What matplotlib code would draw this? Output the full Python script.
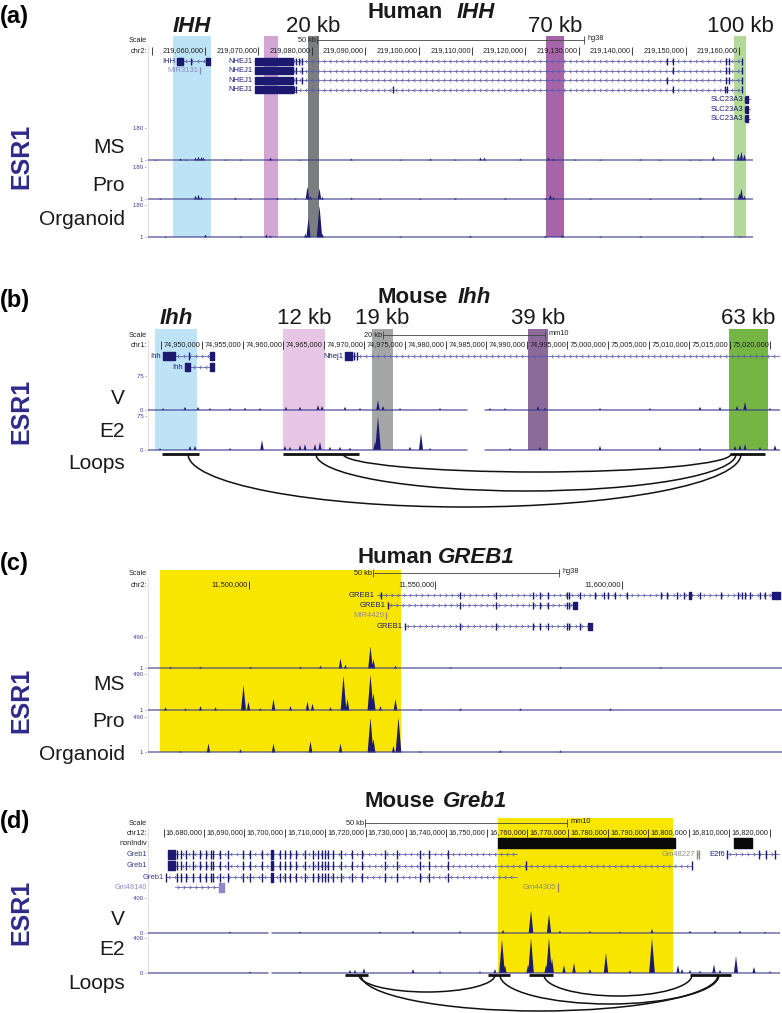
import numpy as np
import matplotlib
matplotlib.use('Agg')
import matplotlib.pyplot as plt
from matplotlib.patches import Arc
from matplotlib.path import Path

plt.rcParams['font.family'] = ['Liberation Sans', 'DejaVu Sans']

# =============================== DATA ===============================
# ---------- Panel (a) Human IHH (hg38, chr2) ----------
A_view = (219049324, 219162640)
A_ticks = [219050000, 219060000, 219070000, 219080000, 219090000, 219100000,
           219110000, 219120000, 219130000, 219140000, 219150000, 219160000]
A_tick_labels = ['', '219,060,000', '219,070,000', '219,080,000', '219,090,000', '219,100,000',
                 '219,110,000', '219,120,000', '219,130,000', '219,140,000', '219,150,000', '219,160,000']
A_scale = (219080974, 50000, '50 kb', 'hg38')
A_hl_start = [219054000, 219071000, 219079300, 219123900, 219159100]
A_hl_end = [219061100, 219073700, 219081350, 219127200, 219161300]
A_hl_label = ['IHH', '', '20 kb', '70 kb', '100 kb']
# (name, row, start, end, strand, blocks, exon ticks, label mode, label kind)
A_transcripts = [
    ('IHH', 0, 219054756, 219060936, '-', [(219054756, 219055880), (219060187, 219060936)],
     [219057378], 'gene', 'gene'),
    ('MIR3131', 1, 219059064, 219059064, '-', [], [219059064], 'gene', 'mir'),
    ('NHEJ1', 0, 219069364, 219160564, '-', [(219069364, 219076480)],
     [219077042, 219077600, 219078165, 219146519, 219147643, 219157569, 219158131, 219160564], 'gene', 'gene'),
    ('NHEJ1', 1, 219069364, 219160564, '-', [(219069364, 219076480)],
     [219077042, 219078165, 219147643, 219157569, 219158131, 219160564], 'gene', 'gene'),
    ('NHEJ1', 2, 219069364, 219160564, '-', [(219069364, 219076480)],
     [219077042, 219078165, 219146519, 219157569, 219158131, 219160564], 'gene', 'gene'),
    ('NHEJ1', 3, 219069364, 219160564, '-', [(219069364, 219076480)],
     [219076700, 219077042, 219095206, 219147643, 219157400, 219157800, 219160564], 'gene', 'gene'),
    ('SLC23A3', 4, 219161126, 219162062, '-', [(219161350, 219161750)], [219161126], 'gene', 'gene'),
    ('SLC23A3', 5, 219161126, 219162062, '-', [(219161350, 219161750)], [219161126], 'gene', 'gene'),
    ('SLC23A3', 6, 219161126, 219162062, '-', [(219161350, 219161750)], [219161126], 'gene', 'gene'),
]
A_track_names = ['MS', 'Pro', 'Organoid']
A_track_max = ['180', '180', '180']
A_track_min = ['1', '1', '1']
A_MS = [(219050636, 6), (219055318, 11), (219056442, 6), (219058127, 17), (219058689, 22),
        (219059251, 20), (219059625, 17), (219063745, 6), (219066555, 6), (219072173, 17),
        (219077791, 6), (219087341, 11), (219096518, 6), (219102135, 11), (219106818, 6),
        (219111499, 17), (219112248, 17), (219118990, 11), (219124233, 17), (219125170, 11),
        (219129290, 6), (219133972, 6), (219141462, 8), (219145208, 6), (219150826, 6),
        (219152699, 6), (219155133, 22), (219159815, 40), (219160377, 50), (219160939, 34)]
A_Pro = [(219051573, 6), (219058127, 22), (219058689, 28), (219059251, 14), (219065618, 11),
         (219068427, 6), (219073483, 11), (219076854, 6), (219079101, 73), (219079663, 20),
         (219081349, 62), (219081911, 15), (219087341, 11), (219092772, 6), (219100263, 6),
         (219106818, 8), (219116181, 8), (219123671, 8), (219124608, 28), (219125170, 14),
         (219132100, 6), (219143336, 6), (219152699, 11), (219160002, 34), (219160377, 62),
         (219160939, 20)]
A_Org = [(219052509, 6), (219060000, 17), (219066555, 6), (219071423, 17), (219072173, 11),
         (219078727, 20), (219079289, 107), (219081349, 180), (219081911, 20), (219096518, 6),
         (219109627, 11), (219123671, 11), (219126855, 14), (219133972, 6), (219141462, 8),
         (219153074, 8), (219160190, 6)]
A_track_vmax = [180, 180, 180]

# ---------- Panel (b) Mouse Ihh (mm10, chr1) ----------
B_view = (74943350, 75021181)
B_ticks = [74945000, 74950000, 74955000, 74960000, 74965000, 74970000, 74975000, 74980000,
           74985000, 74990000, 74995000, 75000000, 75005000, 75010000, 75015000, 75020000]
B_tick_labels = ['', '74,950,000', '74,955,000', '74,960,000', '74,965,000', '74,970,000',
                 '74,975,000', '74,980,000', '74,985,000', '74,990,000', '74,995,000',
                 '75,000,000', '75,005,000', '75,010,000', '75,015,000', '75,020,000']
B_scale = (74972290, 20000, '20 kb', 'mm10')
B_hl_start = [74944212, 74959975, 74970936, 74990147, 75014900]
B_hl_end = [74949384, 74965147, 74973522, 74992610, 75019703]
B_hl_label = ['Ihh', '12 kb', '19 kb', '39 kb', '63 kb']
B_transcripts = [
    ('Ihh', 0, 74945197, 74951478, '-', [(74945197, 74946675), (74950985, 74951478)],
     [74948399], 'gene', 'gene'),
    ('Ihh', 1, 74947907, 74951478, '-', [(74947907, 74948522), (74950985, 74951478)],
     [], 'gene', 'gene'),
    ('Nhej1', 0, 74967610, 75021181, '-', [(74967610, 74968472)],
     [74968719, 74969088], 'gene', 'gene'),
]
B_track_names = ['V', 'E2']
B_track_max = ['75', '75']
B_track_min = ['0', '0']
B_track_vmax = [75, 75]
B_gaps = [(74982635, 74984851)]
B_V = [(74945197, 4), (74947907, 7), (74949507, 7), (74950985, 4), (74953448, 4), (74955295, 5),
       (74957143, 4), (74960345, 7), (74962069, 7), (74964285, 11), (74964778, 9), (74967610, 7),
       (74969458, 4), (74971674, 22), (74972290, 9), (74974384, 4), (74979310, 4), (74985467, 4),
       (74987314, 4), (74991378, 9), (74992240, 5), (74999014, 4), (75005171, 4), (75011328, 7),
       (75013791, 7), (75015885, 9), (75016871, 18), (75019949, 4)]
B_E2 = [(74944828, 4), (74948522, 9), (74949138, 9), (74953448, 4), (74957389, 22), (74960221, 9),
        (74960836, 7), (74962069, 11), (74962685, 13), (74963916, 13), (74964532, 18),
        (74965763, 7), (74966995, 7), (74968226, 5), (74971305, 18), (74971674, 75),
        (74975615, 7), (74976970, 37), (74978078, 4), (74987930, 4), (74991625, 7),
        (74999014, 9), (75006403, 7), (75011328, 5), (75015638, 9), (75016256, 11),
        (75016871, 13), (75018719, 7), (75020566, 11)]
B_anchor_start = [74945074, 74959975, 75015023]
B_anchor_end = [74949631, 74969335, 75019334]
B_loop_start = [74948276, 74964039, 74967364]
B_loop_end = [75016379, 75015764, 75015148]
B_loop_depth = [53, 37, 18]

# ---------- Panel (c) Human GREB1 (hg38, chr2) ----------
C_view = (11472922, 11642900)
C_ticks = [11500000, 11550000, 11600000]
C_tick_labels = ['11,500,000', '11,550,000', '11,600,000']
C_scale = (11533244, 50000, '50 kb', 'hg38')
C_hl_start = [11476139]
C_hl_end = [11540751]
C_hl_label = ['']
C_ex1 = [11535400, 11556569, 11566221, 11576140, 11578017, 11580162, 11585256, 11585792,
         11588741, 11592763, 11595176, 11596248, 11598125, 11601342, 11610457, 11612066,
         11614747, 11616624, 11618232, 11620913, 11626543, 11631101, 11632173, 11632978,
         11634318, 11637000, 11638340]
C_transcripts = [
    ('GREB1', 0, 11534317, 11642362, '+', [(11640216, 11642362), (11618000, 11618600)], C_ex1, 'gene', 'gene'),
    ('GREB1', 1, 11537266, 11587937, '+', [(11586900, 11587937)],
     [11537266, 11556569, 11566221, 11576140, 11578017, 11580162, 11585256, 11585792], 'gene', 'gene'),
    ('MIR4429', 2, 11536730, 11536730, '+', [], [11536730], 'gene', 'mirc'),
    ('GREB1', 3, 11541824, 11591958, '+', [(11590900, 11591958)],
     [11541824, 11556569, 11566221, 11576140, 11578017, 11580162, 11585256, 11585792, 11588741],
     'gene', 'gene'),
]
C_track_names = ['MS', 'Pro', 'Organoid']
C_track_max = ['490', '490', '490']
C_track_min = ['1', '1', '1']
C_track_vmax = [490, 490, 490]
C_MS = [(11478820, 30), (11486863, 30), (11500268, 30), (11513673, 30), (11519035, 45),
        (11524397, 158), (11525738, 60), (11532440, 350), (11533244, 150), (11539143, 45),
        (11553889, 20), (11583379, 30), (11610190, 20)]
C_Pro = [(11477480, 45), (11482842, 30), (11486863, 60), (11490885, 45), (11498391, 350),
         (11499732, 120), (11502949, 30), (11506434, 158), (11510992, 60), (11515550, 126),
         (11516890, 95), (11521716, 45), (11525201, 475), (11526274, 158), (11532440, 490),
         (11533244, 240), (11535121, 60), (11539143, 158), (11545845, 20), (11556569, 30),
         (11572655, 30), (11596785, 30)]
C_Org = [(11481501, 20), (11489008, 126), (11497587, 45), (11506434, 126), (11516354, 158),
         (11524397, 126), (11532440, 490), (11533244, 190), (11538606, 95), (11539947, 490),
         (11545845, 20), (11567293, 30), (11583379, 30)]

# ---------- Panel (d) Mouse Greb1 (mm10, chr12) ----------
D_view = (16666140, 16822560)
D_ticks = [16670000, 16680000, 16690000, 16700000, 16710000, 16720000, 16730000, 16740000,
           16750000, 16760000, 16770000, 16780000, 16790000, 16800000, 16810000, 16820000]
D_tick_labels = ['', '16,680,000', '16,690,000', '16,700,000', '16,710,000', '16,720,000',
                 '16,730,000', '16,740,000', '16,750,000', '16,760,000', '16,770,000',
                 '16,780,000', '16,790,000', '16,800,000', '16,810,000', '16,820,000']
D_scale = (16719848, 50000, '50 kb', 'mm10')
D_hl_start = [16752765]
D_hl_end = [16796078]
D_hl_label = ['']
D_nonindiv = [(16752765, 16796573), (16811175, 16815630)]
D_greb_ex = [16673318, 16674308, 16675545, 16677278, 16679010, 16680495, 16681733, 16682228,
             16683960, 16685940, 16689653, 16691385, 16694355, 16696830, 16698810, 16700048,
             16701285, 16702770, 16704998, 16706978, 16708215, 16709205, 16709948, 16710690,
             16711928, 16713908, 16716630, 16719105, 16724798, 16727768, 16733460, 16735688,
             16740390]
D_transcripts = [
    ('Greb1', 0, 16671090, 16757468, '-', [(16671090, 16672823), (16696600, 16697100)], D_greb_ex, 'margin', 'greb'),
    ('Greb1', 1, 16671090, 16800780, '-', [(16671090, 16672823), (16696600, 16697100)],
     D_greb_ex + [16759695, 16800780], 'margin', 'greb'),
    ('Greb1', 2, 16670595, 16757468, '-', [(16696600, 16697100)], D_greb_ex + [16670595], 'gene', 'greb'),
    ('Gm48140', 3, 16672823, 16684455, '+', [(16683700, 16684950)], [], 'margin', 'mir'),
    ('Gm48227', 0, 16802018, 16802400, '+', [], [16802018, 16802400], 'gene', 'gm'),
    ('E2f6', 0, 16809443, 16822560, '+', [], [16809443, 16817363, 16819095, 16821323], 'gene', 'gene'),
    ('Gm44305', 3, 16767615, 16767615, '+', [], [16767615], 'gene', 'gm'),
]
D_track_names = ['V', 'E2']
D_track_max = ['400', '400']
D_track_min = ['0', '0']
D_track_vmax = [400, 400]
D_gaps = [(16695840, 16696830)]
D_V = [(16686435, 15), (16703760, 15), (16723560, 15), (16731728, 25), (16743360, 20),
       (16754003, 35), (16760933, 260), (16765388, 215), (16768110, 25), (16775535, 20),
       (16782960, 15), (16790880, 45), (16800285, 25), (16806473, 25), (16812660, 25),
       (16818848, 15)]
D_E2 = [(16691385, 15), (16703760, 15), (16716135, 35), (16717373, 35), (16719600, 55),
        (16731728, 45), (16738410, 20), (16748310, 20), (16752023, 45), (16753755, 385),
        (16754498, 90), (16760190, 90), (16760933, 400), (16764645, 90), (16765388, 400),
        (16766130, 170), (16769100, 90), (16771575, 115), (16775535, 45), (16779495, 228),
        (16785435, 30), (16790880, 400), (16797315, 90), (16798305, 45), (16800285, 35),
        (16802760, 25), (16806225, 100), (16807710, 35), (16811670, 195), (16816125, 70),
        (16820085, 20)]
D_anchor_start = [16714898, 16750290, 16760438, 16800285]
D_anchor_end = [16720590, 16755735, 16766378, 16810433]
D_loop_start = [16718363, 16718858, 16753260, 16764150]
D_loop_end = [16752023, 16807215, 16807463, 16800780]
D_loop_depth = [17, 36, 29, 21]

# =============================== STYLE ===============================
W, H = 782, 1013
NAVY = '#1c1a70'
INTRON = '#5a5aaa'
ESR_C = '#2d2a8a'
LABEL_COL = {'gene': '#1e1e78', 'mir': '#8e88c6', 'mirc': '#8e8e9c', 'gm': '#8c8c7c', 'greb': '#3a3a96'}

fig = plt.figure(figsize=(W / 100, H / 100), dpi=100)
bg = fig.add_axes([0, 0, 1, 1])
bg.set_xlim(0, W)
bg.set_ylim(H, 0)
bg.axis('off')

X0 = 148


def panel_axes(x1, view):
    ax = fig.add_axes([X0 / W, 0, (x1 - X0) / W, 1])
    ax.set_xlim(*view)
    ax.set_ylim(H, 0)
    ax.axis('off')
    ax.patch.set_alpha(0)
    return ax


def chevron(strand):
    if strand == '-':
        verts = [(0.5, 1.0), (-0.5, 0.0), (0.5, -1.0)]
    else:
        verts = [(-0.5, 1.0), (0.5, 0.0), (-0.5, -1.0)]
    return Path(verts, [Path.MOVETO, Path.LINETO, Path.LINETO])


def draw_header(ax, view, y_scale, y_chr, chrom, ticks, labels, scale):
    bpp = (view[1] - view[0]) / (ax.get_position().width * W)
    bg.text(X0 - 1, y_scale, 'Scale', ha='right', va='center', fontsize=5.3, color='#222')
    bg.text(X0 - 1, y_chr, chrom, ha='right', va='center', fontsize=5.3, color='#222')
    ax.vlines(ticks, y_chr - 4, y_chr + 4, color='#222', lw=0.6)
    for t, l in zip(ticks, labels):
        if l:
            ax.annotate(l, (t, y_chr), xytext=(-0.8, 0), textcoords='offset points',
                        ha='right', va='center', fontsize=5.3, color='#222')
    s, ln, lab, asm = scale
    ax.plot([s, s + ln], [y_scale, y_scale], color='#444', lw=0.6)
    ax.vlines([s, s + ln], y_scale - 4, y_scale + 4, color='#444', lw=0.6)
    ax.annotate(lab, (s, y_scale), xytext=(-0.8, 0), textcoords='offset points',
                ha='right', va='center', fontsize=5.3, color='#222')
    ax.annotate(asm, (s + ln, y_scale - 2), xytext=(2.5, 0), textcoords='offset points',
                ha='left', va='center', fontsize=5.3, color='#222')
    return bpp


def draw_transcripts(ax, transcripts, row_y, exon_h, bpp):
    for name, row, s, e, strand, blocks, ticks, mode, kind in transcripts:
        y = row_y[row]
        if e > s:
            ax.plot([s, e], [y, y], color=INTRON, lw=0.55, zorder=3)
            step = 6 * bpp
            cx = np.arange(s + step / 2, e - step / 3, step)
            if len(cx) and kind != 'gm':
                ax.plot(cx, np.full(len(cx), y), ls='none', marker=chevron(strand), ms=2.6,
                        mec=INTRON, mfc='none', mew=0.5, zorder=3)
        if blocks:
            ax.broken_barh([(bs, be - bs) for bs, be in blocks], (y - exon_h / 2, exon_h),
                           color=NAVY if kind not in ('mir',) else LABEL_COL['mir'], zorder=4)
        if ticks:
            col = NAVY if kind in ('gene', 'greb') else LABEL_COL[kind]
            ax.vlines(ticks, y - exon_h / 2, y + exon_h / 2, color=col, lw=1.0, zorder=4)
        if mode == 'margin':
            bg.text(X0 - 1, y, name, ha='right', va='center', fontsize=5.3, color=LABEL_COL[kind])
        else:
            ax.annotate(name, (s, y), xytext=(-1.5, 0), textcoords='offset points', ha='right',
                        va='center', fontsize=5.5, color=LABEL_COL[kind], zorder=5)


def draw_signal(ax, view, bpp, base, height, vmax, peaks, gaps=()):
    grid = np.linspace(view[0], view[1], 4000)
    prof = np.zeros_like(grid, dtype=float)
    for p, v in peaks:
        hpx = v / vmax * height
        w = (1.3 + 0.045 * hpx) * bpp
        prof = np.maximum(prof, hpx * np.clip(1 - np.abs(grid - p) / w, 0, None))
    ingap = np.zeros_like(grid, dtype=bool)
    for g0, g1 in gaps:
        ingap |= (grid >= g0) & (grid <= g1)
    ax.fill_between(grid, base, base - prof, where=~ingap, color=NAVY, lw=0, zorder=5)
    yb = np.where(ingap, np.nan, base)
    ax.plot(grid, yb, color='#3a3a8c', lw=0.8, zorder=5)


def draw_track_labels(names, vmaxl, vminl, tops, bases, label_y):
    for n, mx, mn, t, b, ly in zip(names, vmaxl, vminl, tops, bases, label_y):
        bg.text(X0 - 1, t, mx + ' -', ha='right', va='center', fontsize=4.3, color='#3c3c96')
        bg.text(X0 - 1, b, mn + ' -', ha='right', va='center', fontsize=4.3, color='#3c3c96')
        bg.text(125, ly, n, ha='right', va='baseline', fontsize=15, color='#1a1a1a')


def draw_highlights(ax, starts, ends, colors, y0, y1, labels=None, label_y=None, italic_first=False):
    for i, (s, e, c) in enumerate(zip(starts, ends, colors)):
        ax.fill_between([s, e], y0, y1, color=c, lw=0, zorder=0)
        if labels and labels[i]:
            if italic_first and i == 0:
                ax.text((s + e) / 2, label_y, labels[i], ha='center', va='baseline', fontsize=16,
                        fontweight='bold', fontstyle='italic', color='#1a1a1a')
            else:
                ax.text((s + e) / 2, label_y, labels[i], ha='center', va='baseline', fontsize=16,
                        color='#1a1a1a')


def draw_loops(ax, y, a_s, a_e, l_s, l_e, depth):
    ax.hlines([y] * len(a_s), a_s, a_e, color='#111', lw=2.0, zorder=6)
    for s, e, d in zip(l_s, l_e, depth):
        ax.add_patch(Arc(((s + e) / 2, y), e - s, 2 * d, theta1=0, theta2=180,
                         color='#111', lw=1.1, zorder=6))


def title(y, left, right, xr, xl, italic_size=16):
    bg.text(xr, y, left, ha='right', va='baseline', fontsize=16, fontweight='bold', color='#1a1a1a')
    bg.text(xl, y, right, ha='left', va='baseline', fontsize=16, fontweight='bold',
            fontstyle='italic', color='#1a1a1a')


def esr(yc):
    bg.text(21, yc, 'ESR1', rotation=90, ha='center', va='center', fontsize=18,
            fontweight='bold', color=ESR_C)


def left_border(y0, y1):
    bg.plot([X0, X0], [y0, y1], color='#f0d0d4', lw=0.6)


# =============================== PANEL A ===============================
axA = panel_axes(753, A_view)
bg.text(0, 23, '(a)', ha='left', va='baseline', fontsize=17, fontweight='bold')
title(18, 'Human', 'IHH', 443, 457)
draw_highlights(axA, A_hl_start, A_hl_end, ['#bde3f6', '#d3a6d3', '#7b7e80', '#a665a9', '#b3d89b'],
                36, 237, A_hl_label, 32, italic_first=True)
bppA = draw_header(axA, A_view, 40, 51, 'chr2:', A_ticks, A_tick_labels, A_scale)
draw_transcripts(axA, A_transcripts, [61, 70.6, 80.2, 89.8, 99.4, 109, 118.6], 7, bppA)
A_bases = [160, 199, 237]
for pk, b, vm in zip([A_MS, A_Pro, A_Org], A_bases, A_track_vmax):
    draw_signal(axA, A_view, bppA, b, 32, vm, pk)
draw_track_labels(A_track_names, A_track_max, A_track_min, [b - 32 for b in A_bases], A_bases,
                  [153, 191, 225])
esr(156)
left_border(45, 238)

# =============================== PANEL B ===============================
axB = panel_axes(780, B_view)
bg.text(0, 307, '(b)', ha='left', va='baseline', fontsize=17, fontweight='bold')
title(303, 'Mouse', 'Ihh', 448, 458)
draw_highlights(axB, B_hl_start, B_hl_end, ['#bee3f6', '#e6c6e4', '#a4a6a8', '#8c6a99', '#74b544'],
                329, 450, B_hl_label, 324, italic_first=True)
bppB = draw_header(axB, B_view, 335, 345, 'chr1:', B_ticks, B_tick_labels, B_scale)
draw_transcripts(axB, B_transcripts, [356, 367], 8, bppB)
B_bases = [410, 450]
for pk, b, vm in zip([B_V, B_E2], B_bases, B_track_vmax):
    draw_signal(axB, B_view, bppB, b, 34, vm, pk, B_gaps)
draw_track_labels(B_track_names, B_track_max, B_track_min, [b - 34 for b in B_bases], B_bases,
                  [404, 437])
bg.text(125, 469, 'Loops', ha='right', va='baseline', fontsize=15, color='#1a1a1a')
draw_loops(axB, 454, B_anchor_start, B_anchor_end, B_loop_start, B_loop_end, B_loop_depth)
esr(411)
left_border(340, 451)

# =============================== PANEL C ===============================
axC = panel_axes(782, C_view)
bg.text(0, 570, '(c)', ha='left', va='baseline', fontsize=17, fontweight='bold')
title(563, 'Human', 'GREB1', 433, 438)
draw_highlights(axC, C_hl_start, C_hl_end, ['#f9e600'], 570, 752)
bppC = draw_header(axC, C_view, 573, 585, 'chr2:', C_ticks, C_tick_labels, C_scale)
draw_transcripts(axC, C_transcripts, [595, 605.3, 615.6, 626], 7, bppC)
C_bases = [668, 710, 752]
C_heights = [31, 36, 35]
for pk, b, h, vm in zip([C_MS, C_Pro, C_Org], C_bases, C_heights, C_track_vmax):
    draw_signal(axC, C_view, bppC, b, h, vm, pk)
draw_track_labels(C_track_names, C_track_max, C_track_min,
                  [b - h for b, h in zip(C_bases, C_heights)], C_bases, [690, 727, 760])
esr(700)
left_border(578, 753)

# =============================== PANEL D ===============================
axD = panel_axes(780, D_view)
bg.text(0, 828, '(d)', ha='left', va='baseline', fontsize=17, fontweight='bold')
title(807, 'Mouse', 'Greb1', 435, 443)
draw_highlights(axD, D_hl_start, D_hl_end, ['#f9e600'], 818, 973)
bppD = draw_header(axD, D_view, 823, 833, 'chr12:', D_ticks, D_tick_labels, D_scale)
bg.text(X0 - 1, 843, 'nonIndiv', ha='right', va='center', fontsize=5.3, color='#222')
axD.broken_barh([(s, e - s) for s, e in D_nonindiv], (838, 10), color='#0a0a0a', zorder=4)
draw_transcripts(axD, D_transcripts, [854, 865.5, 877, 887], 9, bppD)
D_bases = [933, 973]
for pk, b, vm in zip([D_V, D_E2], D_bases, D_track_vmax):
    draw_signal(axD, D_view, bppD, b, 35, vm, pk, D_gaps)
draw_track_labels(D_track_names, D_track_max, D_track_min, [b - 35 for b in D_bases], D_bases,
                  [925, 955])
bg.text(125, 989, 'Loops', ha='right', va='baseline', fontsize=15, color='#1a1a1a')
draw_loops(axD, 975, D_anchor_start, D_anchor_end, D_loop_start, D_loop_end, D_loop_depth)
esr(912)
left_border(828, 974)

fig.savefig('out.png', dpi=100)
